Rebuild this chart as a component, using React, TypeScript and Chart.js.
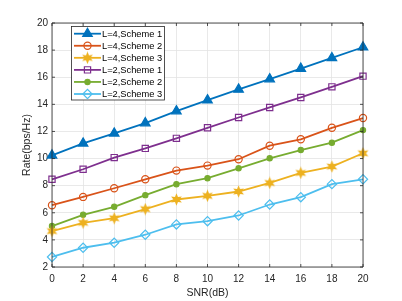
import React, { useEffect, useRef } from 'react';
import { Chart, registerables } from 'chart.js';
import { drawPoint } from 'chart.js/helpers';

Chart.register(...registerables);

const snr = [0, 2, 4, 6, 8, 10, 12, 14, 16, 18, 20];
const l4s1 = [10.24, 11.12, 11.86, 12.62, 13.5, 14.31, 15.1, 15.86, 16.64, 17.42, 18.21];
const l4s2 = [6.56, 7.17, 7.81, 8.47, 9.11, 9.48, 9.95, 10.95, 11.42, 12.27, 12.99];
const l4s3 = [4.65, 5.26, 5.6, 6.27, 6.98, 7.25, 7.57, 8.2, 8.94, 9.41, 10.39];
const l2s1 = [8.47, 9.21, 10.07, 10.75, 11.49, 12.27, 13.03, 13.77, 14.51, 15.29, 16.08];
const l2s2 = [5.02, 5.85, 6.44, 7.3, 8.11, 8.55, 9.28, 10.02, 10.63, 11.17, 12.1];
const l2s3 = [2.74, 3.42, 3.79, 4.38, 5.14, 5.38, 5.8, 6.61, 7.15, 8.11, 8.47];
const seriesNames = ['L=4,Scheme 1', 'L=4,Scheme 2', 'L=4,Scheme 3', 'L=2,Scheme 1', 'L=2,Scheme 2', 'L=2,Scheme 3'];
const seriesColors = ['#0072BD', '#D95319', '#EDB120', '#7E2F8E', '#77AC30', '#4DBEEE'];
const xTitle = 'SNR(dB)';
const yTitle = 'Rate(bps/Hz)';

const FONT = '"Liberation Sans", Arial, Helvetica, sans-serif';
const AXIS_COLOR = '#262626';

function makeStar(color: string): HTMLCanvasElement {
  const c = document.createElement('canvas');
  const s = 13;
  c.width = s;
  c.height = s;
  const ctx = c.getContext('2d')!;
  const cx = s / 2, cy = s / 2, ro = 6.2, ri = 3.0;
  ctx.beginPath();
  for (let i = 0; i < 12; i++) {
    const r = i % 2 === 0 ? ro : ri;
    const a = -Math.PI / 2 + (i * Math.PI) / 6;
    const x = cx + r * Math.cos(a);
    const y = cy + r * Math.sin(a);
    if (i === 0) ctx.moveTo(x, y); else ctx.lineTo(x, y);
  }
  ctx.closePath();
  ctx.fillStyle = color;
  ctx.fill();
  return c;
}

const framePlugin = {
  id: 'matlabFrame',
  afterDraw(chart: any) {
    const { ctx, chartArea } = chart;
    const { left, right, top, bottom } = chartArea;
    const xs = chart.scales.x;
    const ys = chart.scales.y;
    ctx.save();
    ctx.strokeStyle = AXIS_COLOR;
    ctx.lineWidth = 0.8;
    ctx.beginPath();
    ctx.rect(left, top, right - left, bottom - top);
    ctx.stroke();
    const tl = 3;
    ctx.beginPath();
    xs.ticks.forEach((t: any) => {
      const px = xs.getPixelForValue(t.value);
      ctx.moveTo(px, bottom);
      ctx.lineTo(px, bottom - tl);
      ctx.moveTo(px, top);
      ctx.lineTo(px, top + tl);
    });
    ys.ticks.forEach((t: any) => {
      const py = ys.getPixelForValue(t.value);
      ctx.moveTo(left, py);
      ctx.lineTo(left + tl, py);
      ctx.moveTo(right, py);
      ctx.lineTo(right - tl, py);
    });
    ctx.stroke();

    // legend
    const bx = 71.5, by = 26.5, bw = 93, bh = 73.5;
    ctx.fillStyle = '#ffffff';
    ctx.fillRect(bx, by, bw, bh);
    ctx.strokeStyle = AXIS_COLOR;
    ctx.lineWidth = 0.8;
    ctx.strokeRect(bx, by, bw, bh);
    chart.data.datasets.forEach((ds: any, i: number) => {
      const y = 33.7 + i * 12.06;
      ctx.strokeStyle = ds.borderColor;
      ctx.lineWidth = ds.borderWidth;
      ctx.beginPath();
      ctx.moveTo(74, y);
      ctx.lineTo(101, y);
      ctx.stroke();
      ctx.fillStyle = ds.pointBackgroundColor;
      ctx.strokeStyle = ds.pointBorderColor;
      ctx.lineWidth = ds.pointBorderWidth;
      drawPoint(ctx, { pointStyle: ds.pointStyle, radius: ds.pointRadius, rotation: 0, borderWidth: ds.pointBorderWidth }, 87.5, y);
      ctx.fillStyle = '#000000';
      ctx.font = `9.3px ${FONT}`;
      ctx.textBaseline = 'middle';
      ctx.textAlign = 'left';
      ctx.fillText(seriesNames[i], 102, y + 0.5);
    });
    ctx.restore();
  },
};

export default function App() {
  const ref = useRef<HTMLCanvasElement>(null);
  useEffect(() => {
    if (!ref.current) return;
    const star = makeStar(seriesColors[2]);
    const mk = (data: number[], i: number, extra: any) => ({
      label: seriesNames[i],
      data: snr.map((x, k) => ({ x, y: data[k] })),
      borderColor: seriesColors[i],
      borderWidth: 1.8,
      pointBorderColor: seriesColors[i],
      pointBorderWidth: 1.2,
      clip: false,
      ...extra,
    });
    const chart = new Chart(ref.current, {
      type: 'line',
      data: {
        datasets: [
          mk(l4s1, 0, { pointStyle: 'triangle', pointRadius: 5.5, pointBackgroundColor: seriesColors[0] }),
          mk(l4s2, 1, { pointStyle: 'circle', pointRadius: 3.6, pointBackgroundColor: 'rgba(0,0,0,0)' }),
          mk(l4s3, 2, { pointStyle: star, pointRadius: 6, pointBackgroundColor: seriesColors[2] }),
          mk(l2s1, 3, { pointStyle: 'rect', pointRadius: 4.4, pointBackgroundColor: 'rgba(0,0,0,0)' }),
          mk(l2s2, 4, { pointStyle: 'circle', pointRadius: 2.6, pointBackgroundColor: seriesColors[4] }),
          mk(l2s3, 5, { pointStyle: 'rectRot', pointRadius: 4.6, pointBackgroundColor: 'rgba(0,0,0,0)' }),
        ],
      },
      options: {
        responsive: false,
        animation: false,
        events: [],
        layout: { padding: { left: 0, top: 23, right: 39, bottom: 0 } },
        plugins: { legend: { display: false }, tooltip: { enabled: false } },
        scales: {
          x: {
            type: 'linear',
            min: 0,
            max: 20,
            afterFit: (s: any) => { s.height = 34; },
            ticks: { stepSize: 2, color: AXIS_COLOR, font: { family: FONT, size: 10 }, padding: 6, maxRotation: 0 },
            grid: { color: '#e3e3e3', drawTicks: false, lineWidth: 0.8 },
            border: { display: false },
            title: { display: true, text: xTitle, color: AXIS_COLOR, font: { family: FONT, size: 10.5 }, padding: { top: 0, bottom: 1.7 } },
          },
          y: {
            type: 'linear',
            min: 2,
            max: 20,
            afterFit: (s: any) => { s.width = 52; },
            ticks: { stepSize: 2, color: AXIS_COLOR, font: { family: FONT, size: 10 }, padding: 4 },
            grid: { color: '#e3e3e3', drawTicks: false, lineWidth: 0.8 },
            border: { display: false },
            title: { display: true, text: yTitle, color: AXIS_COLOR, font: { family: FONT, size: 10.5 }, padding: { top: 21, bottom: 0 } },
          },
        },
      },
      plugins: [framePlugin],
    });
    return () => chart.destroy();
  }, []);
  return (
    <div style={{ position: 'fixed', left: 0, top: 0, width: 402, height: 301, background: '#ffffff' }}>
      <canvas ref={ref} width={402} height={301} style={{ display: 'block' }} />
    </div>
  );
}
